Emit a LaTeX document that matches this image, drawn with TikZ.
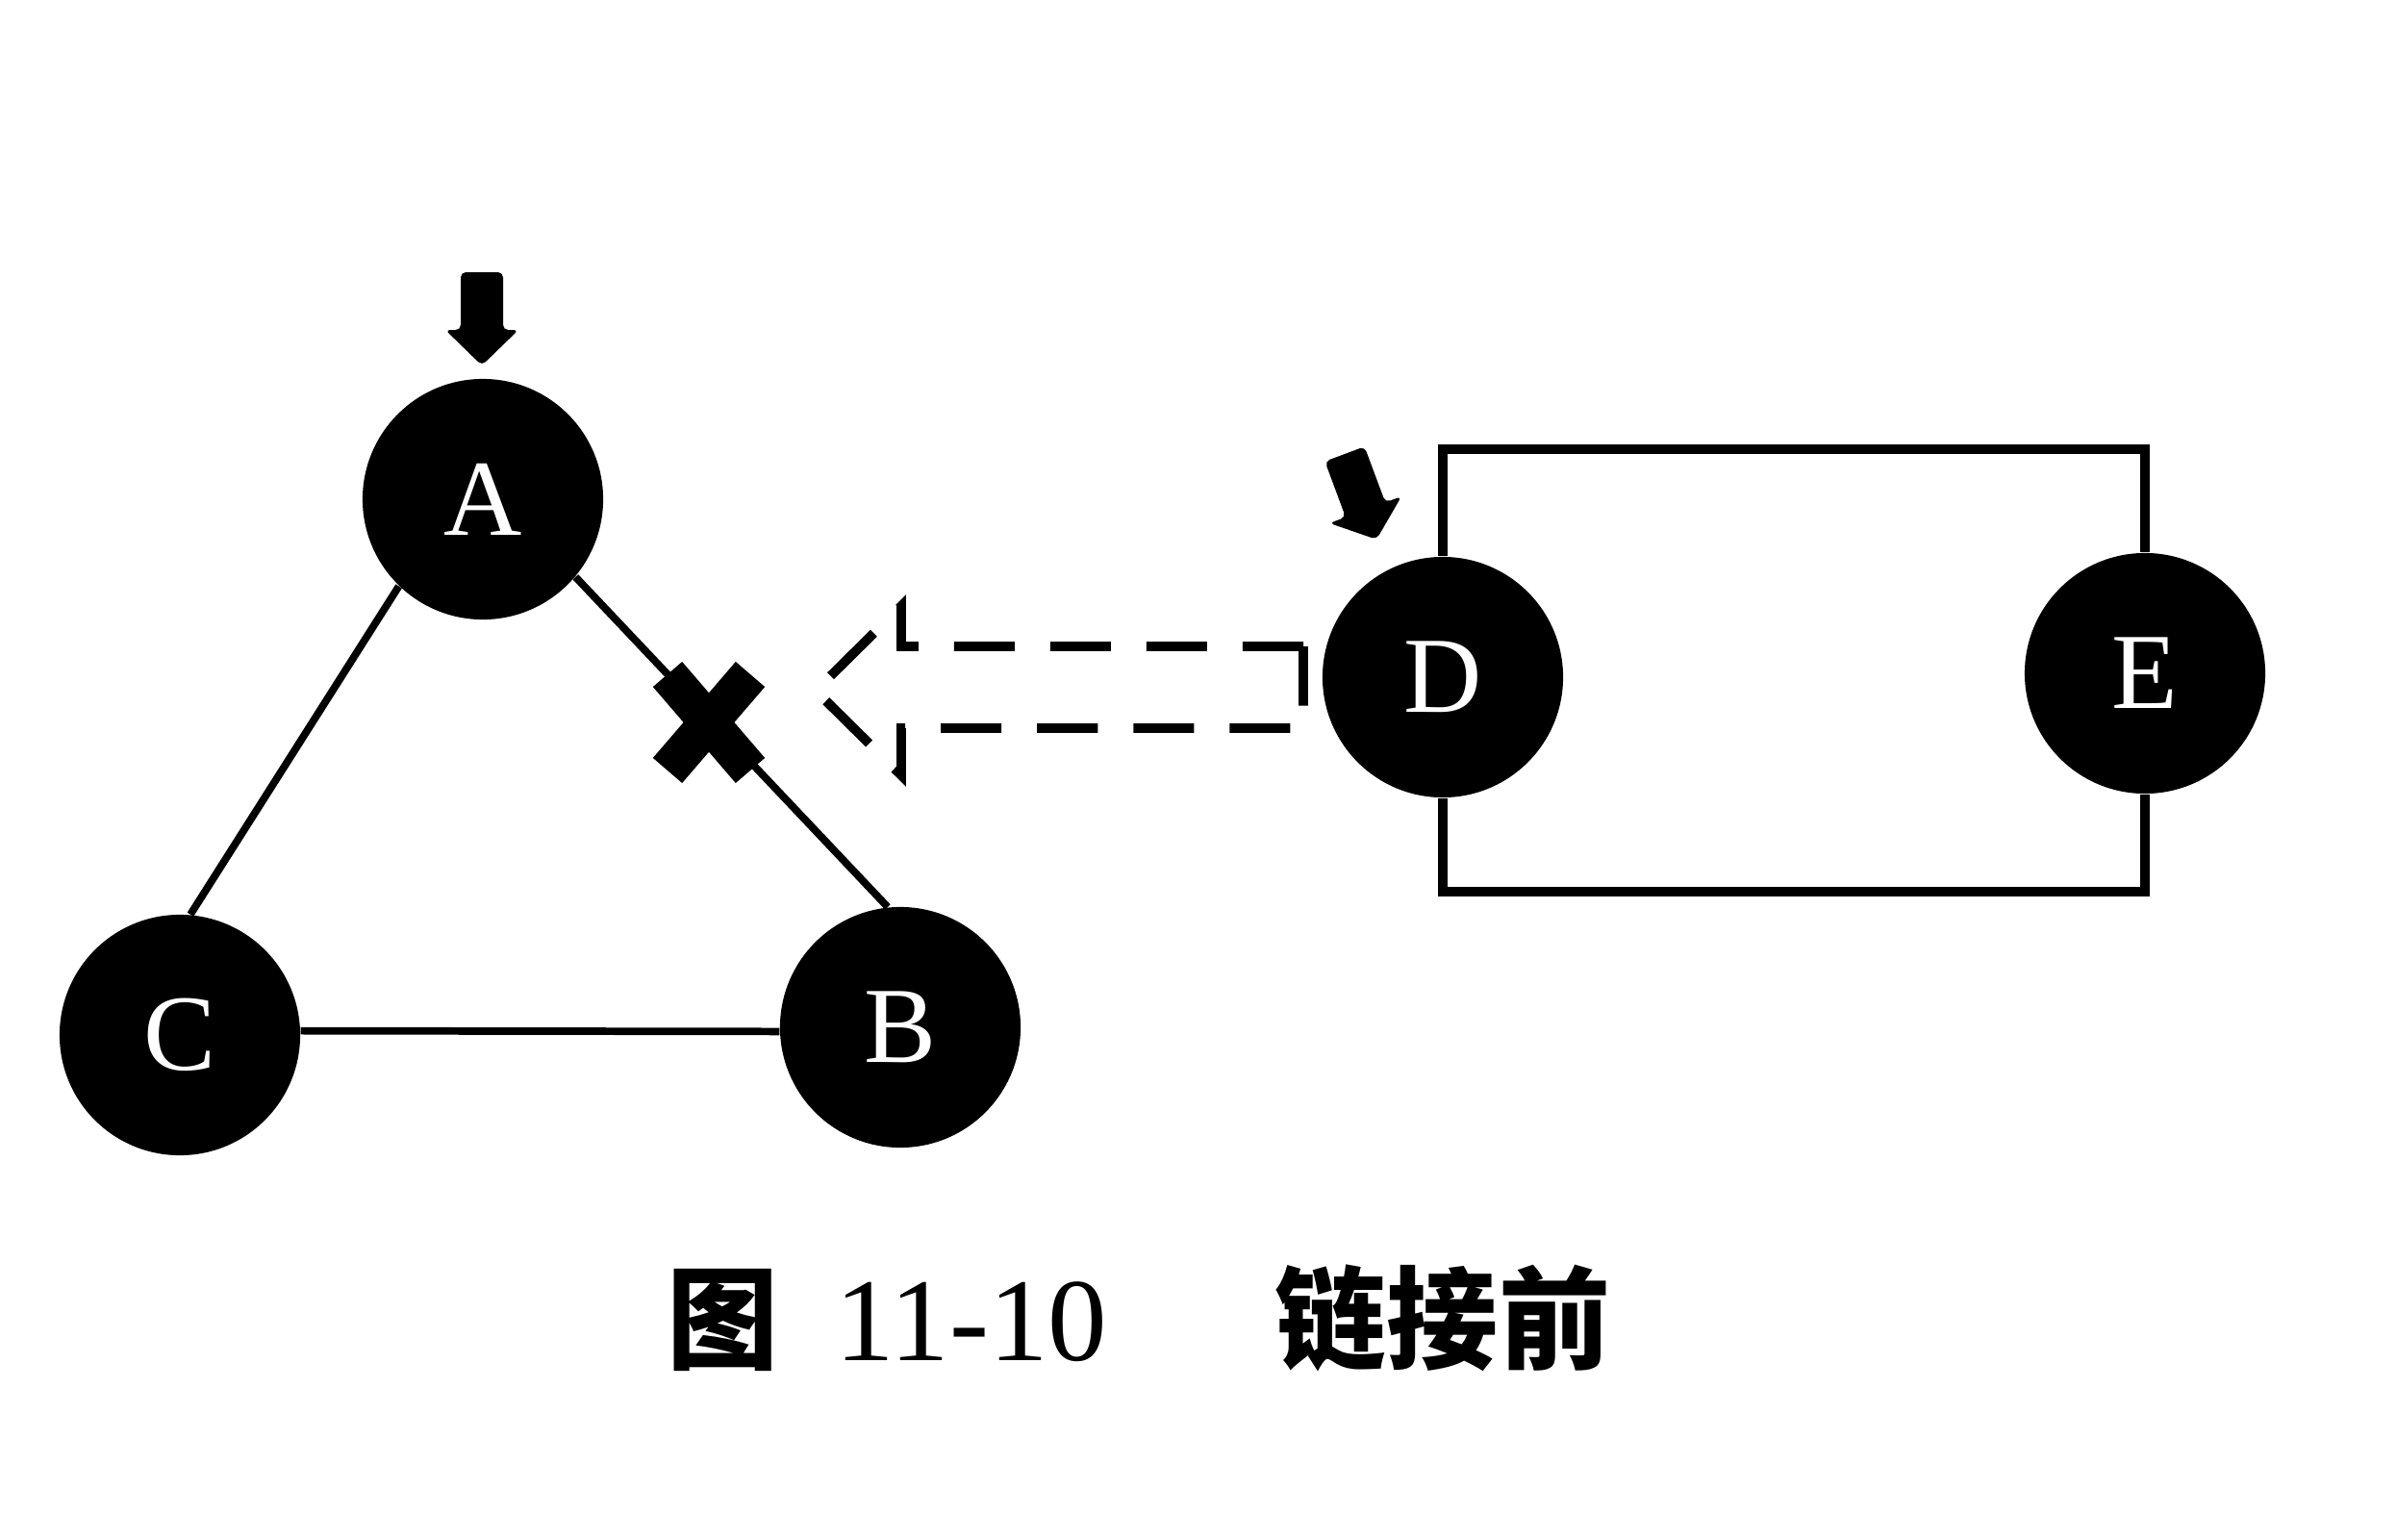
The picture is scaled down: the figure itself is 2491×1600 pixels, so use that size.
\documentclass[tikz,border=0pt]{standalone}
\usepackage{fontspec}
\setmainfont{Liberation Serif}
\newfontfamily\cjk{Noto Sans CJK SC}
\begin{document}
\begin{tikzpicture}[x=0.01cm,y=-0.01cm,
  vertex/.style={circle,fill=black,minimum size=2.5cm,inner sep=0pt,text=white,
    font=\fontsize{32}{32}\selectfont},
  edge/.style={line width=2.2pt},
  ring/.style={line width=2.8pt},
  marker/.style={fill=black,rounded corners=1.5pt},
  cross/.style={line width=0.4cm},
  hollowarrow/.style={line width=2.8pt,dash pattern=on 0.63cm off 0.37cm},
  caption/.style={anchor=base,font=\fontsize{33}{33}\selectfont}]
\useasboundingbox (0,0) rectangle (2491,1600);
% nodes
\node[vertex] (A) at (502,519) {A};
\node[vertex] (B) at (936,1068) {B};
\node[vertex] (C) at (187,1076) {C};
\node[vertex] (D) at (1500,704) {D};
\node[vertex] (E) at (2230,700) {E};
% triangle
\draw[edge] (A.226) -- (C.85);
\draw[edge] (A.-40) -- (B.96);
\draw[edge] (C.2) -- (B.182);
% ring D-E
\coordinate (rt) at (1860,467);
\coordinate (rb) at (1860,927);
\draw[ring] (D.north) -- (D.north |- rt) -- (E.north |- rt) -- (E.north);
\draw[ring] (D.south) -- (D.south |- rb) -- (E.south |- rb) -- (E.south);
% broken link mark
\coordinate (X) at (737,751);
\draw[cross] ([shift={(-43,-50)}]X) -- ([shift={(43,50)}]X);
\draw[cross] ([shift={(43,-50)}]X) -- ([shift={(-43,50)}]X);
% dashed hollow arrow from D towards the break
\draw[hollowarrow] (1355,672) -- (937,672) -- (937,630) -- (848,718) -- (937,806) -- (937,757) -- (1355,757) -- cycle;
% pointer arrows
\fill[marker] (479,283) -- (523,283) -- (523,343) -- (539,343) -- (501,380) -- (463,343) -- (479,343) -- cycle;
\fill[marker] (1418.6,464.3) -- (1440.2,522.3) -- (1457.0,516.1) -- (1431.1,560.8) -- (1382.2,543.9) -- (1399.0,537.7) -- (1377.4,479.7) -- cycle;
% caption
\node[caption] (fig) at (752,1414) {\cjk\bfseries 图};
\node[caption,font=\fontsize{35}{35}\selectfont] (num) at (1010,1414) {11-10};
\node[caption] (title) at (1500,1414) {\cjk\bfseries 链接前};
\end{tikzpicture}
\end{document}
